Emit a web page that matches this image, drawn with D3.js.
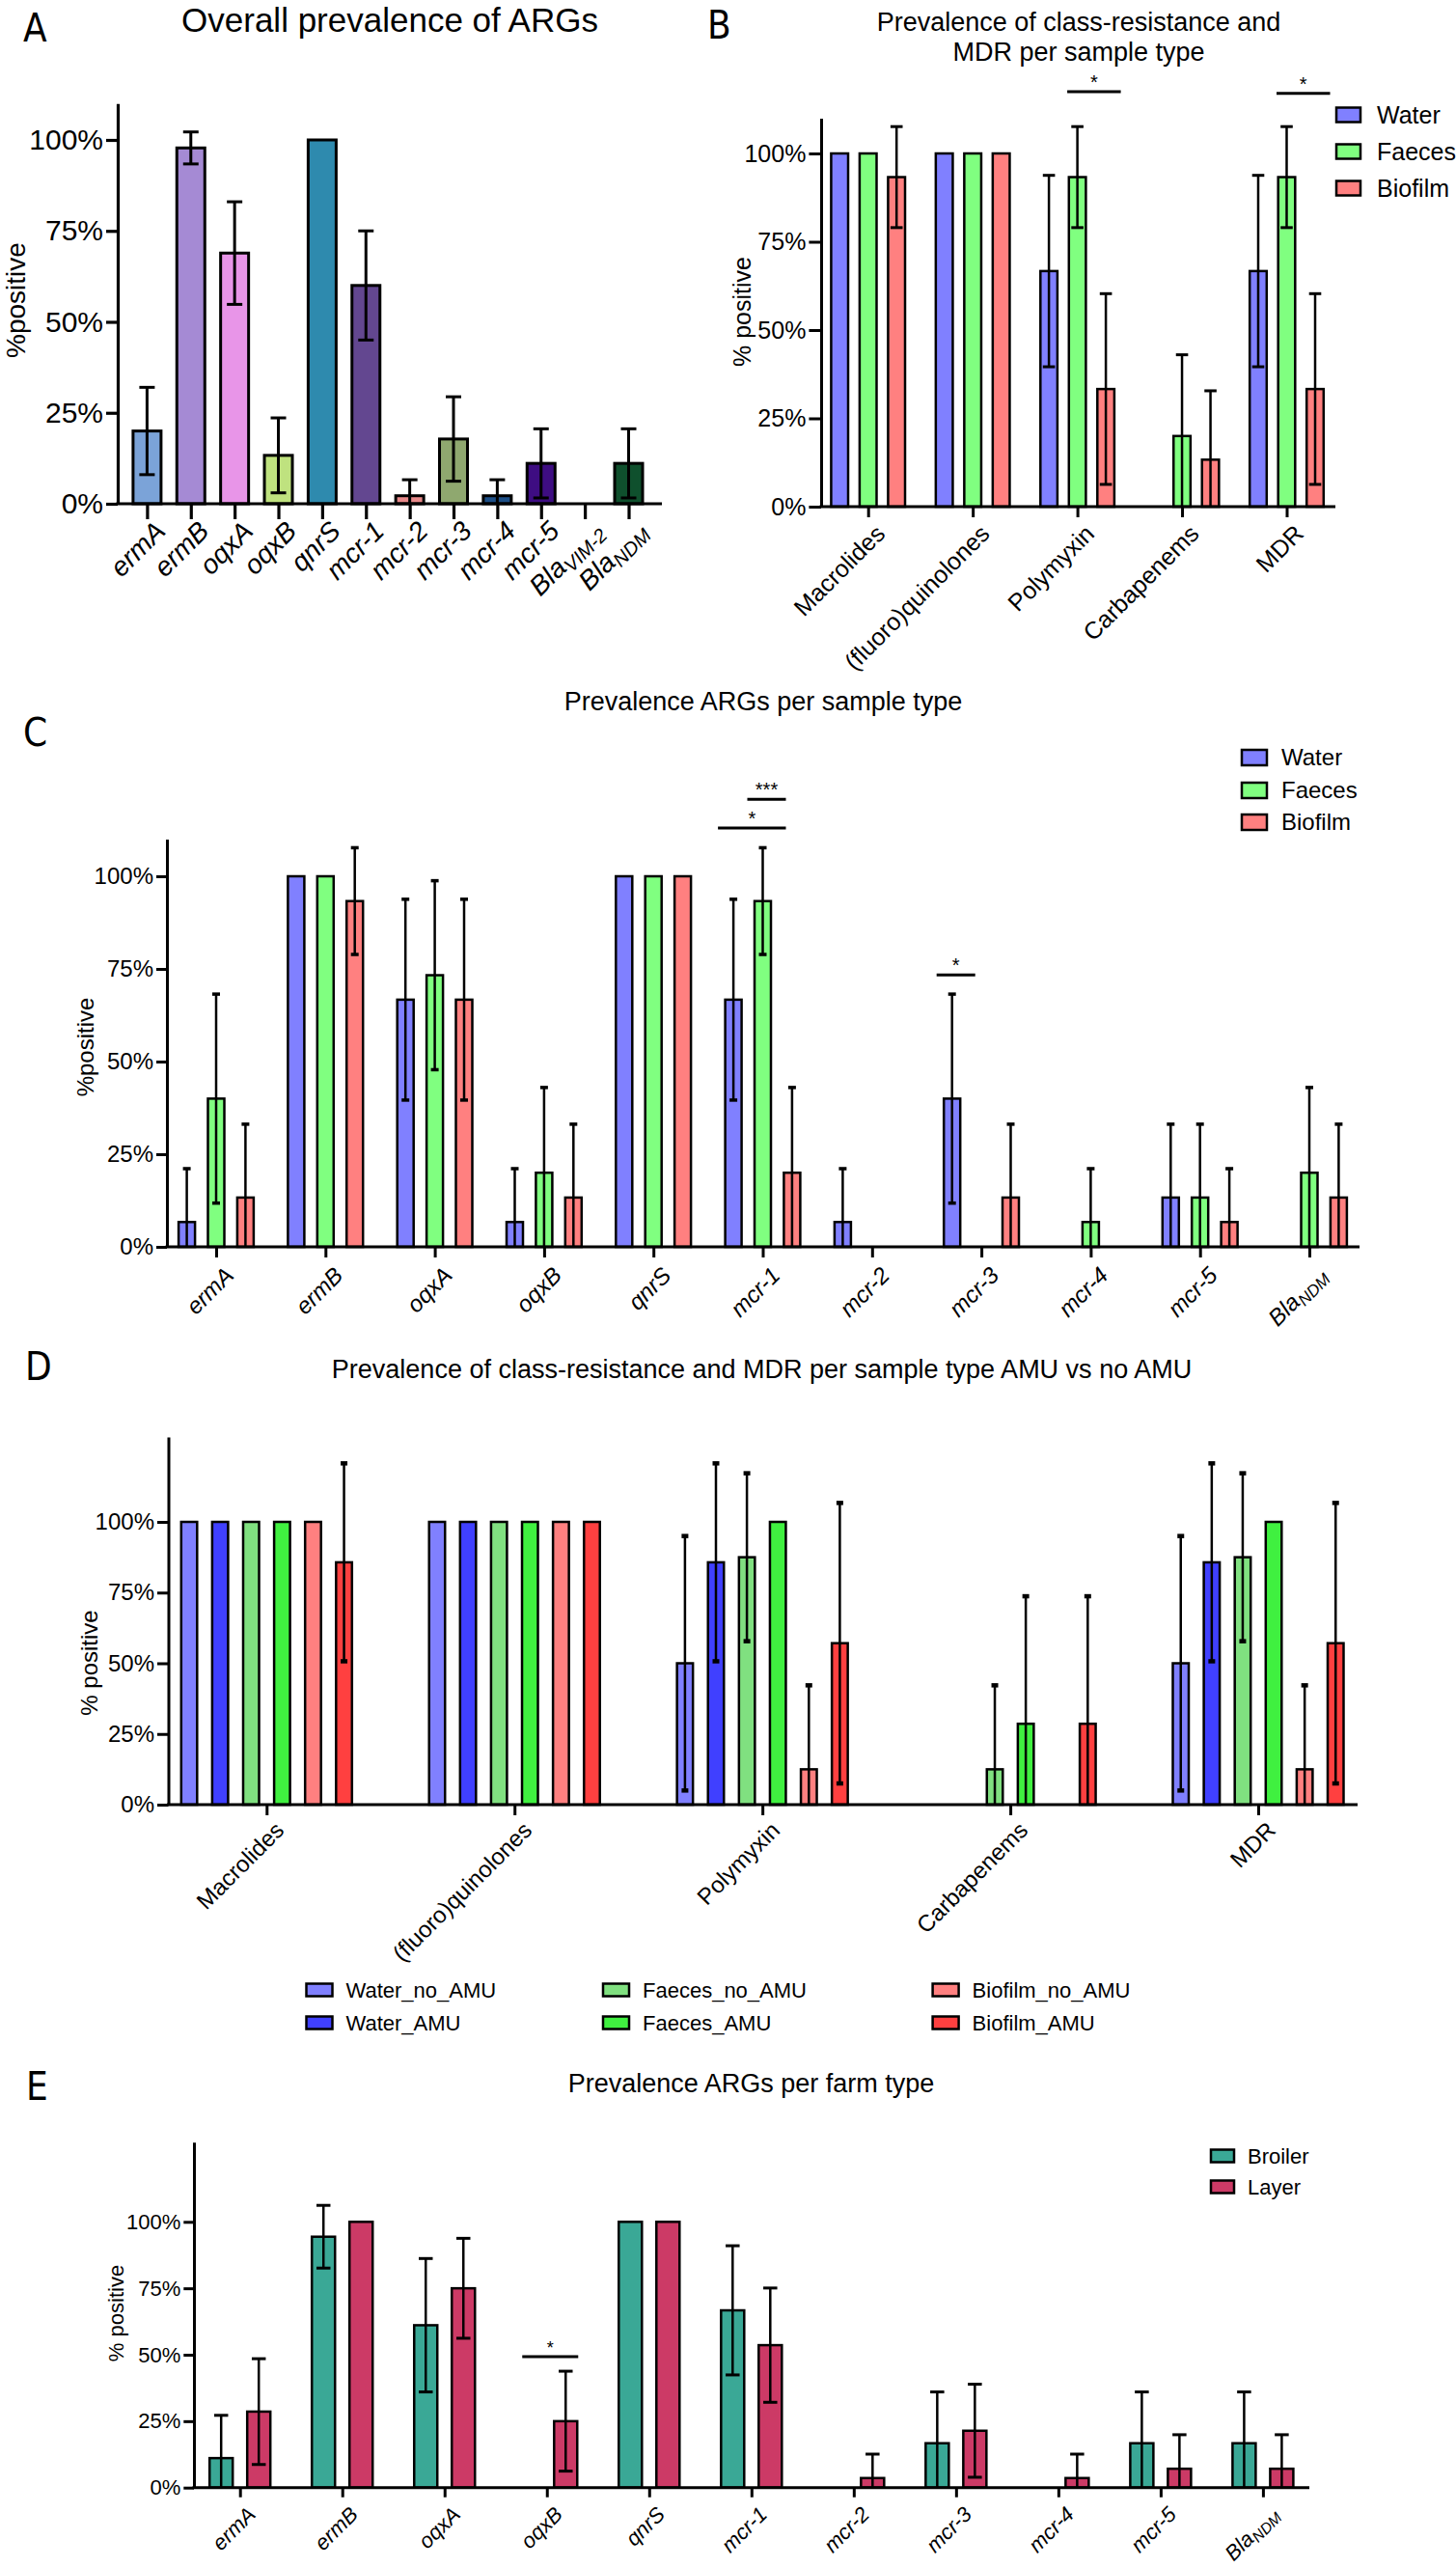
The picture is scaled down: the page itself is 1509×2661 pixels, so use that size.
<!DOCTYPE html>
<html>
<head>
<meta charset="utf-8">
<script src="https://cdn.jsdelivr.net/npm/d3@7"></script>
<style>
  body { margin: 0; background: #fff; }
  svg text { font-family: "Liberation Sans", Arial, Helvetica, sans-serif; fill: #000; }
</style>
</head>
<body>
<svg id="fig" width="1509" height="2661"></svg>
<script>
// ---------- data ----------
// A: overall prevalence (%), 95% CI half-width
const genesA = ['ermA', 'ermB', 'oqxA', 'oqxB', 'qnrS', 'mcr-1', 'mcr-2', 'mcr-3', 'mcr-4', 'mcr-5', 'BlaVIM-2', 'BlaNDM'];
const prevA = [20, 97.8, 68.9, 13.3, 100, 60, 2.2, 17.8, 2.2, 11.1, 0, 11.1];
const errA = [12, 4.4, 14.1, 10.3, 0, 15, 4.4, 11.6, 4.4, 9.5, 0, 9.5];
const colorsA = ['#7ba3d8', '#a58ad4', '#e895e8', '#bfe27f', '#2e8aae', '#634790', '#e8898a', '#8fa86f', '#1d4f87', '#3e0d82', '#888888', '#0f502d'];

// B: class resistance per sample type
const classes = ['Macrolides', '(fluoro)quinolones', 'Polymyxin', 'Carbapenems', 'MDR'];
const sampleTypes = ['Water', 'Faeces', 'Biofilm'];
const sampleColors = ['#8080ff', '#80ff80', '#ff8080'];
const classWater = [100, 100, 66.7, 0, 66.7];
const classFaeces = [100, 100, 93.3, 20, 93.3];
const classBiofilm = [93.3, 100, 33.3, 13.3, 33.3];
const classWaterErr = [0, 0, 27.1, 0, 27.1];
const classFaecesErr = [0, 0, 14.3, 23, 14.3];
const classBiofilmErr = [14.3, 0, 27, 19.5, 27];

// C: ARGs per sample type
const genesC = ['ermA', 'ermB', 'oqxA', 'oqxB', 'qnrS', 'mcr-1', 'mcr-2', 'mcr-3', 'mcr-4', 'mcr-5', 'BlaNDM'];
const geneWater = [6.7, 100, 66.7, 6.7, 100, 66.7, 6.7, 40, 0, 13.3, 0];
const geneFaeces = [40, 100, 73.3, 20, 100, 93.3, 0, 0, 6.7, 13.3, 20];
const geneBiofilm = [13.3, 93.3, 66.7, 13.3, 100, 20, 0, 13.3, 0, 6.7, 13.3];
const geneWaterErr = [14.4, 0, 27.1, 14.4, 0, 27.1, 14.4, 28.2, 0, 19.8, 0];
const geneFaecesErr = [28.2, 0, 25.5, 23, 0, 14.4, 0, 0, 14.4, 19.8, 23];
const geneBiofilmErr = [19.8, 14.4, 27.1, 19.8, 0, 23, 0, 19.8, 0, 14.4, 19.8];

// D: class resistance per sample type, AMU vs no AMU
const amuGroups = ['Water_no_AMU', 'Water_AMU', 'Faeces_no_AMU', 'Faeces_AMU', 'Biofilm_no_AMU', 'Biofilm_AMU'];
const amuColors = ['#8080ff', '#4040ff', '#80e080', '#40f040', '#ff8080', '#ff4040'];
const amuValues = [
  [100, 100, 50, 0, 50],
  [100, 100, 85.7, 0, 85.7],
  [100, 100, 87.5, 12.5, 87.5],
  [100, 100, 100, 28.6, 100],
  [100, 100, 12.5, 0, 12.5],
  [85.7, 100, 57.1, 28.6, 57.1]
];
const amuErrors = [
  [0, 0, 45, 0, 45],
  [0, 0, 35, 0, 35],
  [0, 0, 29.7, 29.7, 29.7],
  [0, 0, 0, 45.1, 0],
  [0, 0, 29.7, 0, 29.7],
  [35, 0, 49.6, 45.1, 49.6]
];

// E: ARGs per farm type
const farmTypes = ['Broiler', 'Layer'];
const farmColors = ['#3aa896', '#cc3a66'];
const broiler = [11.1, 94.4, 61.1, 0, 100, 66.7, 0, 16.7, 0, 16.7, 16.7];
const broilerErr = [16.1, 11.8, 25.1, 0, 0, 24.3, 0, 19.3, 0, 19.3, 19.3];
const layer = [28.6, 100, 75, 25, 100, 53.6, 3.6, 21.4, 3.6, 7.1, 7.1];
const layerErr = [19.9, 0, 18.8, 18.8, 0, 21.5, 9, 17.5, 9, 12.8, 12.8];

// significance brackets (series index from/to, bracket height in %)
const sigB = [
  { cat: 'Polymyxin', from: 1, to: 2, at: 117.5, label: '*' },
  { cat: 'MDR', from: 1, to: 2, at: 117, label: '*' }
];
const sigC = [
  { cat: 'mcr-1', from: 1, to: 1, at: 120.8, label: '***' },
  { cat: 'mcr-1', from: 0, to: 1, at: 113, label: '*' },
  { cat: 'mcr-3', from: 0, to: 0, at: 73.4, label: '*' }
];
const sigE = [
  { cat: 'oqxB', from: 0, to: 1, at: 49.3, label: '*' }
];

// ---------- drawing ----------
const svg = d3.select('#fig');
svg.append('rect').attr('width', 1509).attr('height', 2661).attr('fill', '#fff');

function addLabel(sel, name) {
  const m = name.match(/^Bla(.+)$/);
  if (m) {
    sel.append('tspan').text('Bla');
    sel.append('tspan').attr('font-size', '0.72em').attr('dy', '0.28em').text(m[1]);
  } else {
    sel.text(name);
  }
}

function panel(cfg) {
  const g = svg.append('g');
  const x = d3.scalePoint().domain(cfg.cats).range([cfg.firstX, cfg.lastX]);
  const yTop = cfg.y0 - (cfg.y0 - cfg.y100) * cfg.yMax / 100;
  const y = d3.scaleLinear().domain([0, cfg.yMax]).range([cfg.y0, yTop]);
  const nS = cfg.series.length;
  const sx = (cat, i) => x(cat) + (i - (nS - 1) / 2) * cfg.slot;

  // bars
  cfg.series.forEach((s, i) => {
    const rows = cfg.cats.map((c, k) => ({ c, v: s.values[k], col: s.colors ? s.colors[k] : s.color }));
    g.append('g').selectAll('rect')
      .data(rows.filter(d => d.v > 0))
      .join('rect')
      .attr('x', d => sx(d.c, i) - cfg.bw / 2)
      .attr('y', d => y(d.v))
      .attr('width', cfg.bw)
      .attr('height', d => y(0) - y(d.v))
      .attr('fill', d => d.col)
      .attr('stroke', '#000')
      .attr('stroke-width', cfg.barStroke);
  });

  // error bars
  cfg.series.forEach((s, i) => {
    const eb = g.append('g').attr('stroke', '#000');
    cfg.cats.forEach((c, k) => {
      const v = s.values[k], e = s.errors[k];
      if (!(e > 0)) return;
      const cx = sx(c, i), hi = v + e, lo = v - e;
      eb.append('line').attr('x1', cx).attr('x2', cx)
        .attr('y1', y(Math.max(lo, 0))).attr('y2', y(hi))
        .attr('stroke-width', cfg.errStroke);
      const caps = lo > 0 ? [hi, lo] : [hi];
      caps.forEach(cv => {
        eb.append('line')
          .attr('x1', cx - cfg.capW / 2).attr('x2', cx + cfg.capW / 2)
          .attr('y1', y(cv)).attr('y2', y(cv))
          .attr('stroke-width', cfg.capStroke);
      });
    });
  });

  // y axis
  const yAxis = g.append('g')
    .attr('transform', `translate(${cfg.axisL},0)`)
    .call(d3.axisLeft(y).tickValues([0, 25, 50, 75, 100]).tickFormat(d => d + '%')
      .tickSize(cfg.tickY).tickSizeOuter(0).tickPadding(3));
  yAxis.attr('font-family', null).attr('font-size', null);
  yAxis.select('.domain').attr('stroke-width', cfg.axisW);
  yAxis.selectAll('.tick line').attr('stroke-width', cfg.axisW);
  yAxis.selectAll('.tick text').attr('font-size', cfg.tickFont).attr('fill', '#000');

  // x axis
  const xAxis = g.append('g')
    .attr('transform', `translate(0,${cfg.y0})`)
    .call(d3.axisBottom(x).tickSize(cfg.tickX).tickSizeOuter(0).tickFormat(''));
  xAxis.attr('font-family', null).attr('font-size', null);
  xAxis.select('.domain').remove();
  xAxis.selectAll('.tick line').attr('stroke-width', cfg.axisW);
  xAxis.selectAll('.tick text').remove();
  xAxis.selectAll('.tick').each(function (d) {
    const t = d3.select(this).append('text')
      .attr('transform', `translate(${cfg.labDx},${cfg.tickX + cfg.labDy}) rotate(-45)`)
      .attr('text-anchor', 'end')
      .attr('dy', '0.71em')
      .attr('font-size', cfg.labFont)
      .attr('font-style', cfg.italic ? 'italic' : 'normal')
      .attr('fill', '#000');
    addLabel(t, d);
  });
  g.append('line')
    .attr('x1', cfg.axisL - cfg.axisW / 2).attr('x2', cfg.axisR)
    .attr('y1', cfg.y0).attr('y2', cfg.y0)
    .attr('stroke', '#000').attr('stroke-width', cfg.axisW);

  // y label
  g.append('text')
    .attr('transform', `translate(${cfg.ylabX},${cfg.ylabY}) rotate(-90)`)
    .attr('text-anchor', 'middle')
    .attr('font-size', cfg.ylabFont)
    .text(cfg.ylab);

  // significance
  (cfg.sig || []).forEach(s => {
    const x1 = sx(s.cat, s.from) - cfg.sigPadL, x2 = sx(s.cat, s.to) + cfg.sigPadR;
    g.append('line').attr('x1', x1).attr('x2', x2).attr('y1', y(s.at)).attr('y2', y(s.at))
      .attr('stroke', '#000').attr('stroke-width', 3);
    g.append('text').attr('x', (x1 + x2) / 2).attr('y', y(s.at) - 3)
      .attr('text-anchor', 'middle').attr('font-size', cfg.sigFont).text(s.label);
  });

  // title + panel letter
  cfg.title.forEach((line, i) => {
    g.append('text').attr('x', cfg.titleX).attr('y', cfg.titleY + i * cfg.titleGap)
      .attr('text-anchor', 'middle').attr('font-size', cfg.titleFont).text(line);
  });
  g.append('text').attr('x', cfg.letterX).attr('y', cfg.letterY)
    .attr('font-size', 40)
    .style('font-family', '"Liberation Sans Narrow", "DejaVu Sans Condensed", "Liberation Sans", Arial, sans-serif')
    .text(cfg.letter);

  // legend
  if (cfg.legend) {
    const L = cfg.legend;
    L.items.forEach(it => {
      const lx = L.xs[it.col], ly = L.ys[it.row];
      g.append('rect').attr('x', lx).attr('y', ly - L.h / 2).attr('width', L.w).attr('height', L.h)
        .attr('fill', it.color).attr('stroke', '#000').attr('stroke-width', 2.5);
      g.append('text').attr('x', lx + L.textDx).attr('y', ly).attr('dy', '0.35em')
        .attr('font-size', L.font).text(it.name);
    });
  }
}

// Panel A
panel({
  letter: 'A', letterX: 24, letterY: 43,
  title: ['Overall prevalence of ARGs'], titleX: 404, titleY: 33, titleGap: 0, titleFont: 35,
  cats: genesA,
  series: [{ values: prevA, errors: errA, colors: colorsA }],
  axisL: 122, axisR: 686, y0: 522, y100: 145, yMax: 110, firstX: 152.4, lastX: 651.5,
  bw: 29, slot: 0, barStroke: 3, errStroke: 3, capW: 16, capStroke: 3,
  tickX: 16, tickY: 12, axisW: 3.2, tickFont: 30, labFont: 28, italic: true, labDx: 6, labDy: 0,
  ylab: '%positive', ylabX: 26, ylabY: 311, ylabFont: 28
});

// Panel B
panel({
  letter: 'B', letterX: 733, letterY: 40,
  title: ['Prevalence of class-resistance and', 'MDR per sample type'], titleX: 1118, titleY: 32, titleGap: 31, titleFont: 27,
  cats: classes,
  series: [
    { values: classWater, errors: classWaterErr, color: sampleColors[0] },
    { values: classFaeces, errors: classFaecesErr, color: sampleColors[1] },
    { values: classBiofilm, errors: classBiofilmErr, color: sampleColors[2] }
  ],
  axisL: 851, axisR: 1384, y0: 525, y100: 159, yMax: 110, firstX: 899.7, lastX: 1333.5,
  bw: 17.6, slot: 29.5, barStroke: 2.5, errStroke: 2.5, capW: 12.6, capStroke: 3,
  tickX: 11, tickY: 12.6, axisW: 3, tickFont: 25, labFont: 25, italic: false, labDx: 6, labDy: 6,
  ylab: '% positive', ylabX: 778, ylabY: 323, ylabFont: 25,
  sig: sigB, sigPadL: 10.5, sigPadR: 15.5, sigFont: 20,
  legend: {
    xs: [1385], ys: [119, 157, 195], w: 25, h: 15, textDx: 42, font: 25,
    items: sampleTypes.map((n, i) => ({ name: n, color: sampleColors[i], col: 0, row: i }))
  }
});

// Panel C
panel({
  letter: 'C', letterX: 24, letterY: 773,
  title: ['Prevalence ARGs per sample type'], titleX: 791, titleY: 736, titleGap: 0, titleFont: 27,
  cats: genesC,
  series: [
    { values: geneWater, errors: geneWaterErr, color: sampleColors[0] },
    { values: geneFaeces, errors: geneFaecesErr, color: sampleColors[1] },
    { values: geneBiofilm, errors: geneBiofilmErr, color: sampleColors[2] }
  ],
  axisL: 173, axisR: 1409, y0: 1292, y100: 908, yMax: 110, firstX: 224, lastX: 1357,
  bw: 17, slot: 30.4, barStroke: 2.5, errStroke: 2.5, capW: 8, capStroke: 3.5,
  tickX: 11, tickY: 11, axisW: 3, tickFont: 24, labFont: 24, italic: true, labDx: 7, labDy: 8,
  ylab: '%positive', ylabX: 97, ylabY: 1085, ylabFont: 24,
  sig: sigC, sigPadL: 16, sigPadR: 24, sigFont: 20,
  legend: {
    xs: [1287], ys: [785, 819, 852], w: 26, h: 16, textDx: 41, font: 24,
    items: sampleTypes.map((n, i) => ({ name: n, color: sampleColors[i], col: 0, row: i }))
  }
});

// Panel D
panel({
  letter: 'D', letterX: 26, letterY: 1430,
  title: ['Prevalence of class-resistance and MDR per sample type AMU vs no AMU'], titleX: 789.5, titleY: 1428, titleGap: 0, titleFont: 27,
  cats: classes,
  series: amuGroups.map((n, i) => ({ values: amuValues[i], errors: amuErrors[i], color: amuColors[i] })),
  axisL: 174.5, axisR: 1407, y0: 1870, y100: 1577, yMax: 130, firstX: 276.3, lastX: 1304,
  bw: 16.5, slot: 32.1, barStroke: 2.5, errStroke: 2.5, capW: 7, capStroke: 4.5,
  tickX: 11, tickY: 11.5, axisW: 3, tickFont: 24, labFont: 24, italic: false, labDx: 7, labDy: 5,
  ylab: '% positive', ylabX: 101, ylabY: 1723, ylabFont: 24,
  legend: {
    xs: [317.5, 625, 966.6], ys: [2062, 2096], w: 27, h: 13, textDx: 41, font: 22,
    items: amuGroups.map((n, i) => ({ name: n, color: amuColors[i], col: Math.floor(i / 2), row: i % 2 }))
  }
});

// Panel E
panel({
  letter: 'E', letterX: 27, letterY: 2176,
  title: ['Prevalence ARGs per farm type'], titleX: 778.5, titleY: 2167.5, titleGap: 0, titleFont: 27,
  cats: genesC,
  series: [
    { values: broiler, errors: broilerErr, color: farmColors[0] },
    { values: layer, errors: layerErr, color: farmColors[1] }
  ],
  axisL: 201, axisR: 1357, y0: 2577.7, y100: 2302.3, yMax: 130, firstX: 248.7, lastX: 1308.9,
  bw: 24, slot: 39, barStroke: 2.5, errStroke: 2.5, capW: 14.5, capStroke: 3,
  tickX: 10, tickY: 10.7, axisW: 3, tickFont: 22, labFont: 22, italic: true, labDx: 6, labDy: 8,
  ylab: '% positive', ylabX: 128, ylabY: 2397, ylabFont: 22,
  sig: sigE, sigPadL: 6, sigPadR: 13, sigFont: 18,
  legend: {
    xs: [1255], ys: [2234, 2266], w: 24, h: 13, textDx: 38, font: 22,
    items: farmTypes.map((n, i) => ({ name: n, color: farmColors[i], col: 0, row: i }))
  }
});
</script>
</body>
</html>
